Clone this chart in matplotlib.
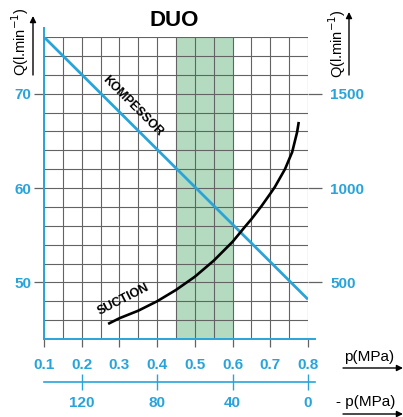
import matplotlib
matplotlib.use("Agg")
import matplotlib.pyplot as plt
from matplotlib.ticker import MultipleLocator

plt.rcParams['font.family'] = ['Liberation Sans', 'DejaVu Sans']

# --- data ---
p_ticks = [0.1, 0.2, 0.3, 0.4, 0.5, 0.6, 0.7, 0.8]
q_left_ticks = [50, 60, 70]
q_right_ticks = [500, 1000, 1500]
vac_ticks = [120, 80, 40, 0]
band = [0.45, 0.6]

p_komp = [0.1, 0.8]
q_komp = [76.0, 48.2]

p_suc = [0.27, 0.30, 0.35, 0.40, 0.45, 0.50, 0.55, 0.60, 0.633, 0.65, 0.677,
         0.70, 0.712, 0.739, 0.758, 0.771, 0.7755]
q_suc = [45.6, 46.2, 47.0, 48.0, 49.2, 50.6, 52.3, 54.3, 55.9, 56.7, 58.1,
         59.4, 60.1, 62.0, 63.8, 65.9, 67.0]

BLUE = "#29a4da"
GRID = "#636363"
GREEN = "#b4dbbf"

W, H = 403, 417
fig = plt.figure(figsize=(W/100, H/100), dpi=100)
ax = fig.add_axes([44/W, 1-339/H, (308-44)/W, (339-37)/H])


def fx(px):
    return px / W


def fy(py):
    return 1 - py / H


ax.axvspan(band[0], band[1], color=GREEN, lw=0, zorder=0)
ax.plot(p_komp, q_komp, color=BLUE, lw=2.0, solid_capstyle='butt', zorder=3)
ax.plot(p_suc, q_suc, color="black", lw=1.9, solid_capstyle='butt',
        solid_joinstyle='round', zorder=3)

ax.set_xlim(0.1, 0.8)
ax.set_ylim(44, 76)
ax.set_xticks(p_ticks)
ax.set_xticklabels([f"{v:.1f}" for v in p_ticks])
ax.xaxis.set_minor_locator(MultipleLocator(0.05))
ax.set_yticks(q_left_ticks)
ax.yaxis.set_minor_locator(MultipleLocator(2))
ax.set_axisbelow(True)
ax.grid(which='both', color=GRID, lw=0.8)

lab = dict(labelcolor=BLUE, labelsize=11)
ax.tick_params(axis='x', which='major', length=6, width=0.9, color=GRID,
               pad=8, **lab)
ax.tick_params(axis='y', which='major', length=7, width=0.9, color=GRID,
               pad=2, **lab)
ax.tick_params(which='minor', length=0)

for s in ('top', 'right'):
    ax.spines[s].set_visible(False)
ax.spines['left'].set_color(BLUE)
ax.spines['left'].set_linewidth(1.4)
ax.spines['left'].set_bounds(44, 77)
ax.spines['bottom'].set_color(BLUE)
ax.spines['bottom'].set_linewidth(1.4)
ax.spines['bottom'].set_bounds(0.1, 0.8184)

# right flow scale
sec_y = ax.secondary_yaxis('right', functions=(lambda q: 50*q - 2000,
                                               lambda r: (r + 2000)/50))
sec_y.set_yticks(q_right_ticks)
sec_y.spines['right'].set_visible(False)
sec_y.tick_params(length=10, width=0.9, color=GRID, pad=6, **lab)

# vacuum scale below
sec_x = ax.secondary_xaxis(-43/302, functions=(lambda p: (0.8 - p)*200,
                                               lambda v: 0.8 - v/200))
sec_x.set_xticks(vac_ticks)
sec_x.spines['bottom'].set_color(BLUE)
sec_x.spines['bottom'].set_linewidth(1.2)
sec_x.spines['bottom'].set_bounds(-3.7, 140)
sec_x.tick_params(direction='inout', length=12, width=1.0, color=BLUE,
                  pad=4, **lab)

for t in (ax.get_xticklabels() + ax.get_yticklabels()
          + sec_y.get_yticklabels() + sec_x.get_xticklabels()):
    t.set_fontweight('bold')

ax.text(0.334, 68.7, "KOMPESSOR", rotation=-45, ha='center', va='center',
        fontsize=8.8, fontweight='bold')
ax.text(0.311, 48.2, "SUCTION", rotation=27, ha='center', va='center',
        fontsize=9, fontweight='bold')

fig.text(fx(174), fy(20), "DUO", ha='center', va='center', fontsize=16,
         fontweight='bold')

qlabel = r"Q(l.min$^{-1}$)"
fig.text(fx(20), fy(42), qlabel, rotation=90, ha='center', va='center', fontsize=10.5)
fig.text(fx(337), fy(44), qlabel, rotation=90, ha='center', va='center', fontsize=10.5)
fig.text(fx(369), fy(357), "p(MPa)", ha='center', va='center', fontsize=11)
fig.text(fx(366), fy(402), "- p(MPa)", ha='center', va='center', fontsize=11)

arrow = dict(arrowstyle='-|>', color='black', lw=1.0, mutation_scale=9,
             shrinkA=0, shrinkB=0)
for (x0, y0), (x1, y1) in [((33, 75), (33, 16)), ((349, 75), (349, 12)),
                           ((343, 368), (403, 368)), ((343, 414), (403, 414))]:
    ax.annotate("", xy=(fx(x1), fy(y1)), xytext=(fx(x0), fy(y0)),
                xycoords='figure fraction', textcoords='figure fraction',
                arrowprops=arrow, annotation_clip=False)

fig.savefig("out.png", dpi=100)
